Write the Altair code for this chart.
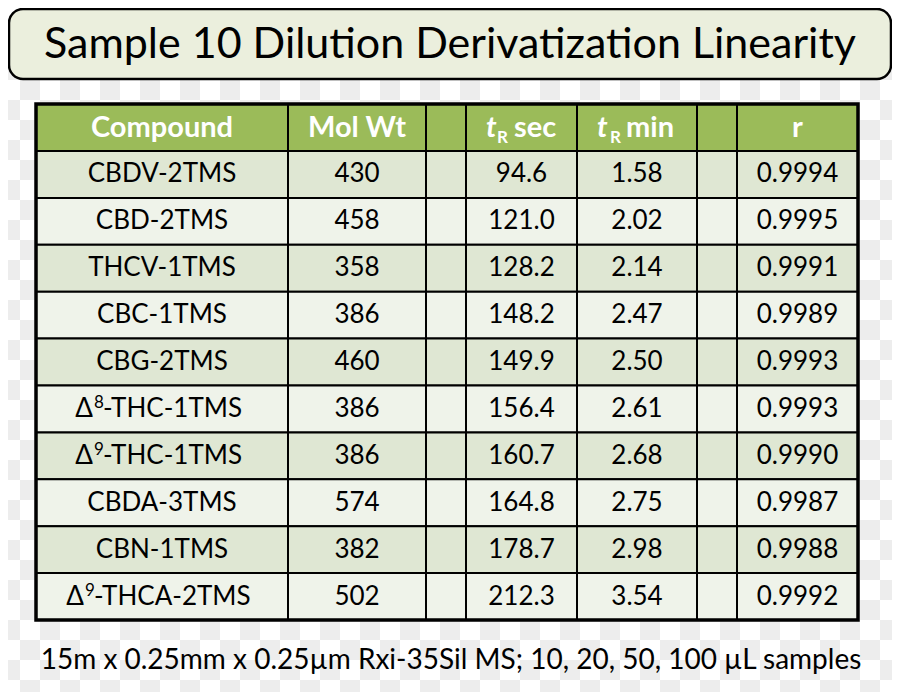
import altair as alt
import pandas as pd

# ---------------- data ----------------
title_text = "Sample 10 Dilution Derivatization Linearity"
footer_text = "15m x 0.25mm x 0.25µm Rxi-35Sil MS; 10, 20, 50, 100 µL samples"
headers = ["Compound", "Mol Wt", "", "", "", "", "r"]
tr_labels = ["sec", "min"]
compounds = ["CBDV-2TMS", "CBD-2TMS", "THCV-1TMS", "CBC-1TMS", "CBG-2TMS",
             "Δ8-THC-1TMS", "Δ9-THC-1TMS", "CBDA-3TMS", "CBN-1TMS", "Δ9-THCA-2TMS"]
mol_wt = [430, 458, 358, 386, 460, 386, 386, 574, 382, 502]
tr_sec = [94.6, 121.0, 128.2, 148.2, 149.9, 156.4, 160.7, 164.8, 178.7, 212.3]
tr_min = [1.58, 2.02, 2.14, 2.47, 2.50, 2.61, 2.68, 2.75, 2.98, 3.54]
r_vals = [0.9994, 0.9995, 0.9991, 0.9989, 0.9993, 0.9993, 0.9990, 0.9987, 0.9988, 0.9992]

# ---------------- layout ----------------
W, H = 884, 684
FONT = "Lato"
BODY_FS = 26
HEAD_FS = 29
SUP_FS = 17
col_edges = [36, 288, 426, 466, 577, 697, 737, 858]
head_top, head_h, row_h = 104, 47, 46.9
n_rows = len(compounds)
# split point (px from cell centre) between "Δ" and its superscript for Δ-compounds
split_dx = {"Δ8-THC-1TMS": -69, "Δ9-THC-1TMS": -69, "Δ9-THCA-2TMS": -78}


def row_top(r):
    return head_top if r == 0 else head_top + head_h + (r - 1) * row_h


def row_bot(r):
    return head_top + head_h if r == 0 else head_top + head_h + r * row_h


centers = [(col_edges[i] + col_edges[i + 1]) / 2 for i in range(7)]

X = alt.X("x:Q", scale=alt.Scale(domain=[8, 8 + W]), axis=None)
Y = alt.Y("y:Q", scale=alt.Scale(domain=[8, 8 + H], reverse=True), axis=None)

# checkerboard background
chk = []
for i in range(46):
    for j in range(36):
        if (i + j) % 2 == 1:
            chk.append({"x": i * 20, "x2": i * 20 + 20, "y": j * 20, "y2": j * 20 + 20})
checker = alt.Chart(pd.DataFrame(chk)).mark_rect(color="#EDEDED").encode(
    x=X, x2="x2:Q", y=Y, y2="y2:Q")

# title box
title_box = alt.Chart(pd.DataFrame([{"x": 9, "x2": 891, "y": 9, "y2": 79}])).mark_rect(
    cornerRadius=14, fill="#EBEFDD", stroke="black", strokeWidth=2.5
).encode(x=X, x2="x2:Q", y=Y, y2="y2:Q")

title = alt.Chart(pd.DataFrame([{"x": 450, "y": 45, "t": title_text}])).mark_text(
    font=FONT, fontSize=43, color="black", align="center", baseline="middle"
).encode(x=X, y=Y, text="t:N")

# table cells
cells = []
for r in range(n_rows + 1):
    for c in range(7):
        if r == 0:
            fill = "#9BBB59"
        elif r % 2 == 1:
            fill = "#DFE7D3"
        else:
            fill = "#EFF3EA"
        cells.append({"x": col_edges[c], "x2": col_edges[c + 1],
                      "y": row_top(r), "y2": row_bot(r), "fill": fill})
cell_layer = alt.Chart(pd.DataFrame(cells)).mark_rect(stroke="black", strokeWidth=2).encode(
    x=X, x2="x2:Q", y=Y, y2="y2:Q", color=alt.Color("fill:N", scale=None))

outer = alt.Chart(pd.DataFrame([{"x": col_edges[0], "x2": col_edges[-1],
                                  "y": row_top(0), "y2": row_bot(n_rows)}])).mark_rect(
    filled=False, stroke="black", strokeWidth=3.5
).encode(x=X, x2="x2:Q", y=Y, y2="y2:Q")

# header texts
hy = (row_top(0) + row_bot(0)) / 2
hdr = [{"x": centers[c], "y": hy, "t": headers[c]} for c in range(7) if headers[c]]
hdr_layer = alt.Chart(pd.DataFrame(hdr)).mark_text(
    font=FONT, fontSize=HEAD_FS, fontWeight="bold", color="white", align="center",
    baseline="middle"
).encode(x=X, y=Y, text="t:N")

tr_cols = [3, 4]
t_dx = [-35.5, -40]
r_dx = [-24.5, -27]
w_dx = [-7.5, -11]
tr_layers = []
for k, c in enumerate(tr_cols):
    pt = pd.DataFrame([{"x": centers[c], "y": hy}])
    tr_layers.append(alt.Chart(pt).mark_text(
        font=FONT, fontSize=HEAD_FS, fontWeight="bold", fontStyle="italic", color="white",
        align="left", baseline="middle", dx=t_dx[k], text="t").encode(x=X, y=Y))
    tr_layers.append(alt.Chart(pt).mark_text(
        font=FONT, fontSize=17, fontWeight="bold", color="white",
        align="left", baseline="middle", dx=r_dx[k], dy=10, text="R").encode(x=X, y=Y))
    tr_layers.append(alt.Chart(pt).mark_text(
        font=FONT, fontSize=HEAD_FS, fontWeight="bold", color="white",
        align="left", baseline="middle", dx=w_dx[k], text=tr_labels[k]).encode(x=X, y=Y))

# body texts
body = []
delta_layers = []
for i in range(n_rows):
    yc = (row_top(i + 1) + row_bot(i + 1)) / 2
    name = compounds[i]
    if name.startswith("Δ"):
        s = split_dx[name]
        pt = pd.DataFrame([{"x": centers[0], "y": yc}])
        delta_layers.append(alt.Chart(pt).mark_text(
            font=FONT, fontSize=BODY_FS, color="black", align="right", baseline="middle",
            dx=s, text="Δ").encode(x=X, y=Y))
        delta_layers.append(alt.Chart(pt).mark_text(
            font=FONT, fontSize=SUP_FS, color="black", align="left", baseline="middle",
            dx=s + 1, dy=-6, text=name[1]).encode(x=X, y=Y))
        delta_layers.append(alt.Chart(pt).mark_text(
            font=FONT, fontSize=BODY_FS, color="black", align="left", baseline="middle",
            dx=s + 10, text=name[2:]).encode(x=X, y=Y))
        shown = None
    else:
        shown = name
    vals = [shown, f"{mol_wt[i]}", None, f"{tr_sec[i]:.1f}", f"{tr_min[i]:.2f}", None,
            f"{r_vals[i]:.4f}"]
    for c, v in enumerate(vals):
        if v is not None:
            body.append({"x": centers[c], "y": yc, "t": v})
body_layer = alt.Chart(pd.DataFrame(body)).mark_text(
    font=FONT, fontSize=BODY_FS, color="black", align="center", baseline="middle"
).encode(x=X, y=Y, text="t:N")

footer = alt.Chart(pd.DataFrame([{"x": 451, "y": 661, "t": footer_text}])).mark_text(
    font=FONT, fontSize=28, color="black", align="center", baseline="middle"
).encode(x=X, y=Y, text="t:N")

chart = alt.layer(
    checker, title_box, title, cell_layer, outer, hdr_layer,
    *tr_layers, body_layer, *delta_layers, footer
).properties(
    width=W, height=H, padding=0, autosize=alt.AutoSizeParams(type="none"),
    background="white"
).configure_view(stroke=None)

chart.save("out.html", embed_options={"renderer": "svg", "actions": False})
